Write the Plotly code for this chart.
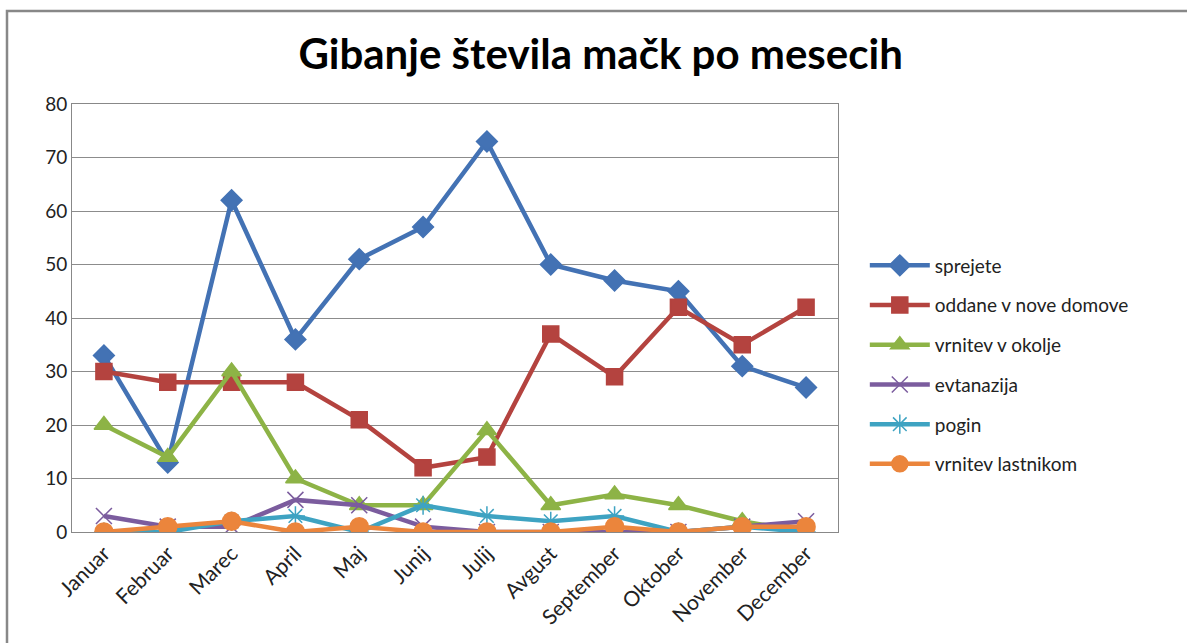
import plotly.graph_objects as go

months = ["Januar", "Februar", "Marec", "April", "Maj", "Junij", "Julij",
          "Avgust", "September", "Oktober", "November", "December"]

sprejete = [33, 13, 62, 36, 51, 57, 73, 50, 47, 45, 31, 27]
oddane = [30, 28, 28, 28, 21, 12, 14, 37, 29, 42, 35, 42]
vrnitev_okolje = [20, 14, 30, 10, 5, 5, 19, 5, 7, 5, 2, 0]
evtanazija = [3, 1, 1, 6, 5, 1, 0, 0, 0, 0, 1, 2]
pogin = [0, 0, 2, 3, 0, 5, 3, 2, 3, 0, 1, 0]
vrnitev_lastnikom = [0, 1, 2, 0, 1, 0, 0, 0, 1, 0, 1, 1]

y_ticks = [0, 10, 20, 30, 40, 50, 60, 70, 80]

series = [
    ("sprejete", sprejete, "#4372b4", "diamond", 16),
    ("oddane v nove domove", oddane, "#b4433f", "square", 16),
    ("vrnitev v okolje", vrnitev_okolje, "#8db346", "triangle-up", 17),
    ("evtanazija", evtanazija, "#7b5c9e", "x-thin-open", 16),
    ("pogin", pogin, "#3ea3c2", "asterisk-open", 16),
    ("vrnitev lastnikom", vrnitev_lastnikom, "#eb853c", "circle", 18),
]

fig = go.Figure()
for i, (name, vals, color, sym, size) in enumerate(series):
    fig.add_trace(go.Scatter(
        x=months, y=vals, name=name, mode="lines+markers",
        legendgroup=f"g{i}",
        line=dict(color=color, width=4.5),
        marker=dict(symbol=sym, size=size, color=color,
                    line=dict(color=color, width=1.5)),
    ))

fig.update_layout(
    width=1187, height=643,
    paper_bgcolor="white", plot_bgcolor="white",
    margin=dict(l=72, r=349, t=104, b=111, autoexpand=False),
    font=dict(family="Lato, Noto Sans, sans-serif", size=19, color="#222"),
    title=dict(text="<b>Gibanje števila mačk po mesecih</b>",
               x=0.506, xanchor="center", y=0.915, yanchor="middle",
               font=dict(size=42, color="black")),
    showlegend=True,
    legend=dict(x=1.035, xanchor="left", y=(532 - 365) / 428, yanchor="middle",
                font=dict(size=19, color="#222"),
                tracegroupgap=12, itemwidth=60,
                bgcolor="rgba(0,0,0,0)"),
    xaxis=dict(
        type="category", tickangle=-45, showgrid=False, automargin=False,
        range=[-0.5, len(months) - 0.5],
        showline=True, linecolor="#888", linewidth=1, mirror=True,
        ticks="", tickfont=dict(size=21, color="#222"),
    ),
    yaxis=dict(
        range=[0, 80], tickvals=y_ticks, showgrid=True, gridcolor="#8c8c8c",
        gridwidth=1, showline=True, linecolor="#888", linewidth=1, mirror=True,
        ticks="", tickfont=dict(size=19, color="#222"), zeroline=False,
        automargin=False,
    ),
    shapes=[dict(type="rect", xref="paper", yref="paper",
                 x0=(7 - 72) / 766, x1=(1200 - 72) / 766,
                 y0=(532 - 660) / 428, y1=(532 - 11) / 428,
                 line=dict(color="#888", width=2.5), layer="below")],
)

fig.write_html("out.html", config={"displayModeBar": False},
               post_script="document.body.style.margin='0';document.body.style.overflow='hidden';")
